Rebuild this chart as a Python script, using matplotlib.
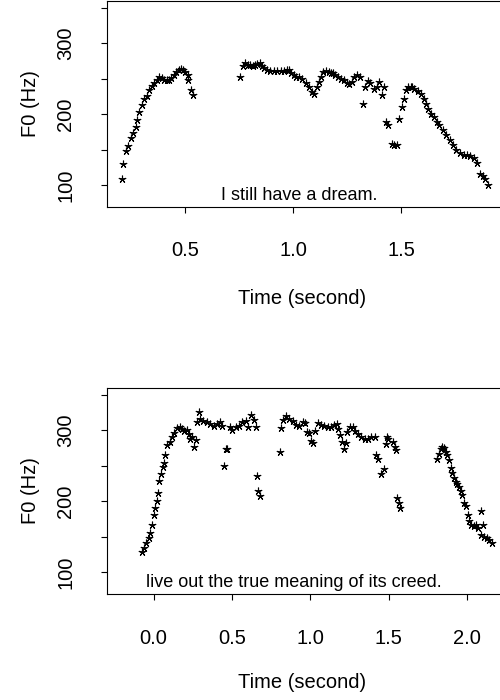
import numpy as np
import matplotlib
matplotlib.use('Agg')
import matplotlib.pyplot as plt

plt.rcParams['font.family'] = ['Liberation Sans', 'DejaVu Sans']

# F0 track, first sentence
t1 = [0.206, 0.213, 0.226, 0.236, 0.249, 0.259, 0.271, 0.278, 0.287, 0.299,
      0.309, 0.322, 0.333, 0.345, 0.356, 0.368, 0.379, 0.392, 0.403, 0.415,
      0.425, 0.436, 0.446, 0.457, 0.469, 0.479, 0.490, 0.500, 0.511, 0.515,
      0.527, 0.536,
      0.756, 0.768, 0.779, 0.790, 0.801, 0.812, 0.823, 0.834, 0.845, 0.856,
      0.866, 0.880, 0.895, 0.911, 0.927, 0.942, 0.957, 0.970, 0.980, 0.992,
      1.004, 1.015, 1.027, 1.043, 1.058, 1.074, 1.089, 1.097, 1.109, 1.120,
      1.128, 1.140, 1.154, 1.165, 1.174, 1.183, 1.193, 1.209, 1.224, 1.236,
      1.249, 1.260, 1.271, 1.283, 1.295, 1.309, 1.322, 1.333, 1.345, 1.357,
      1.373, 1.388, 1.399, 1.410, 1.422, 1.430, 1.441, 1.457, 1.469, 1.481,
      1.492, 1.503, 1.513, 1.523, 1.534, 1.545, 1.550, 1.562, 1.578, 1.593,
      1.606, 1.616, 1.627, 1.640, 1.652, 1.666, 1.678, 1.694, 1.709, 1.725,
      1.740, 1.756, 1.774, 1.794, 1.806, 1.818, 1.836, 1.853, 1.864, 1.880,
      1.891, 1.903]
f1 = [109, 130, 148, 155, 167, 174, 182, 192, 203, 213,
      221, 226, 234, 240, 244, 249, 252, 251, 249, 249,
      248, 251, 256, 260, 263, 264, 262, 260, 256, 248,
      234, 227,
      252, 268, 272, 270, 269, 268, 269, 271, 272, 268,
      265, 262, 261, 261, 261, 261, 261, 262, 262, 258,
      255, 253, 252, 250, 244, 238, 232, 229, 238, 245,
      252, 260, 261, 260, 259, 258, 256, 253, 250, 248,
      244, 243, 246, 252, 256, 252, 214, 239, 247, 244,
      236, 239, 246, 227, 239, 189, 185, 158, 156, 156,
      194, 211, 221, 234, 238, 238, 238, 236, 233, 228,
      222, 215, 208, 201, 196, 189, 185, 178, 171, 164,
      156, 150, 146, 143, 142, 141, 138, 131, 116, 113,
      109, 100]

# F0 track, second sentence
t2 = [-0.074, -0.060, -0.047, -0.032, -0.021, -0.010, 0.000, 0.011, 0.022, 0.028,
      0.037, 0.047, 0.060, 0.069, 0.075, 0.086, 0.103, 0.118, 0.133, 0.150,
      0.167, 0.182, 0.197, 0.214, 0.224, 0.235, 0.246, 0.256, 0.274, 0.278,
      0.288, 0.299, 0.317, 0.338, 0.363, 0.385, 0.406, 0.423, 0.438, 0.449,
      0.460, 0.470, 0.487, 0.503, 0.526, 0.545, 0.567, 0.588, 0.603, 0.620,
      0.638, 0.652, 0.658, 0.667, 0.680,
      0.808, 0.816, 0.829, 0.844, 0.865, 0.887, 0.908, 0.929, 0.951, 0.966,
      0.979, 0.994, 1.008, 1.019, 1.030, 1.047, 1.068, 1.090, 1.111, 1.132,
      1.154, 1.171, 1.180, 1.190, 1.201, 1.214, 1.229, 1.235, 1.252, 1.273,
      1.289, 1.306, 1.327, 1.348, 1.370, 1.391, 1.412, 1.419, 1.434, 1.451,
      1.472, 1.481, 1.487, 1.498, 1.529, 1.539, 1.550, 1.555, 1.566, 1.576,
      1.807, 1.822, 1.832, 1.843, 1.854, 1.865, 1.876, 1.887, 1.897, 1.908,
      1.919, 1.929, 1.940, 1.951, 1.961, 1.972, 1.983, 1.994, 2.004, 2.015,
      2.026, 2.043, 2.058, 2.068, 2.090, 2.101, 2.090, 2.111, 2.128, 2.143,
      2.158]
f2 = [129, 134, 141, 148, 155, 167, 181, 190, 201, 212,
      228, 238, 248, 254, 265, 279, 284, 290, 296, 303,
      305, 302, 299, 300, 294, 287, 291, 277, 286, 311,
      325, 316, 313, 311, 309, 306, 309, 312, 306, 250,
      274, 273, 304, 301, 304, 306, 311, 313, 304, 321,
      315, 304, 235, 215, 207,
      270, 303, 315, 320, 316, 313, 308, 306, 311, 310,
      297, 296, 285, 282, 299, 310, 308, 306, 304, 305,
      307, 309, 302, 293, 283, 274, 282, 298, 304, 304,
      299, 294, 291, 288, 288, 290, 290, 265, 259, 238,
      246, 280, 291, 287, 283, 277, 272, 205, 198, 191,
      259, 267, 274, 277, 275, 270, 265, 258, 247, 240,
      233, 227, 224, 220, 215, 209, 197, 193, 180, 172,
      167, 165, 166, 162, 187, 166, 153, 150, 149, 146,
      142]

xticks1 = [0.5, 1.0, 1.5]
xticks2 = [0.0, 0.5, 1.0, 1.5, 2.0]
yticks = [100, 150, 200, 250, 300, 350]
ylabels = ['100', '', '200', '', '300', '']

fig = plt.figure(figsize=(5, 7), dpi=100)
ax1 = fig.add_axes([0.2147, 0.7047, 0.788, 0.2939])
ax2 = fig.add_axes([0.2147, 0.1514, 0.788, 0.2949])

panels = [
    (ax1, t1, f1, (0.139, 1.965), xticks1, 'I still have a dream.', 1.03),
    (ax2, t2, f2, (-0.295, 2.22), xticks2, 'live out the true meaning of its creed.', 0.897),
]

for ax, t, f, xl, xt, txt, tx in panels:
    ax.plot(t, f, linestyle='none', marker=(5, 2, 0), ms=5.5, mew=0.8, color='black')
    ax.set_xlim(xl)
    ax.set_ylim(69.5, 360)
    ax.set_xticks(xt)
    ax.set_xticklabels(['%.1f' % v for v in xt])
    ax.set_yticks(yticks)
    ax.set_yticklabels(ylabels, rotation=90, va='center')
    ax.tick_params(axis='x', length=4, width=0.8, pad=21, labelsize=14.5)
    ax.tick_params(axis='y', length=4, width=0.8, pad=19, labelsize=14.5)
    for s in ax.spines.values():
        s.set_linewidth(0.8)
    ax.text(tx, 86, txt, ha='center', va='center', fontsize=13)
    # y label centred on the panel
    pos = ax.get_position()
    fig.text(0.06, pos.y0 + pos.height / 2, 'F0 (Hz)', rotation=90,
             ha='center', va='center', fontsize=14.5)

fig.text(0.605, 1 - 298 / 700, 'Time (second)', ha='center', va='center', fontsize=14.5)
fig.text(0.605, 1 - 683 / 700, 'Time (second)', ha='center', va='center', fontsize=14.5)

fig.savefig('out.png', dpi=100)
